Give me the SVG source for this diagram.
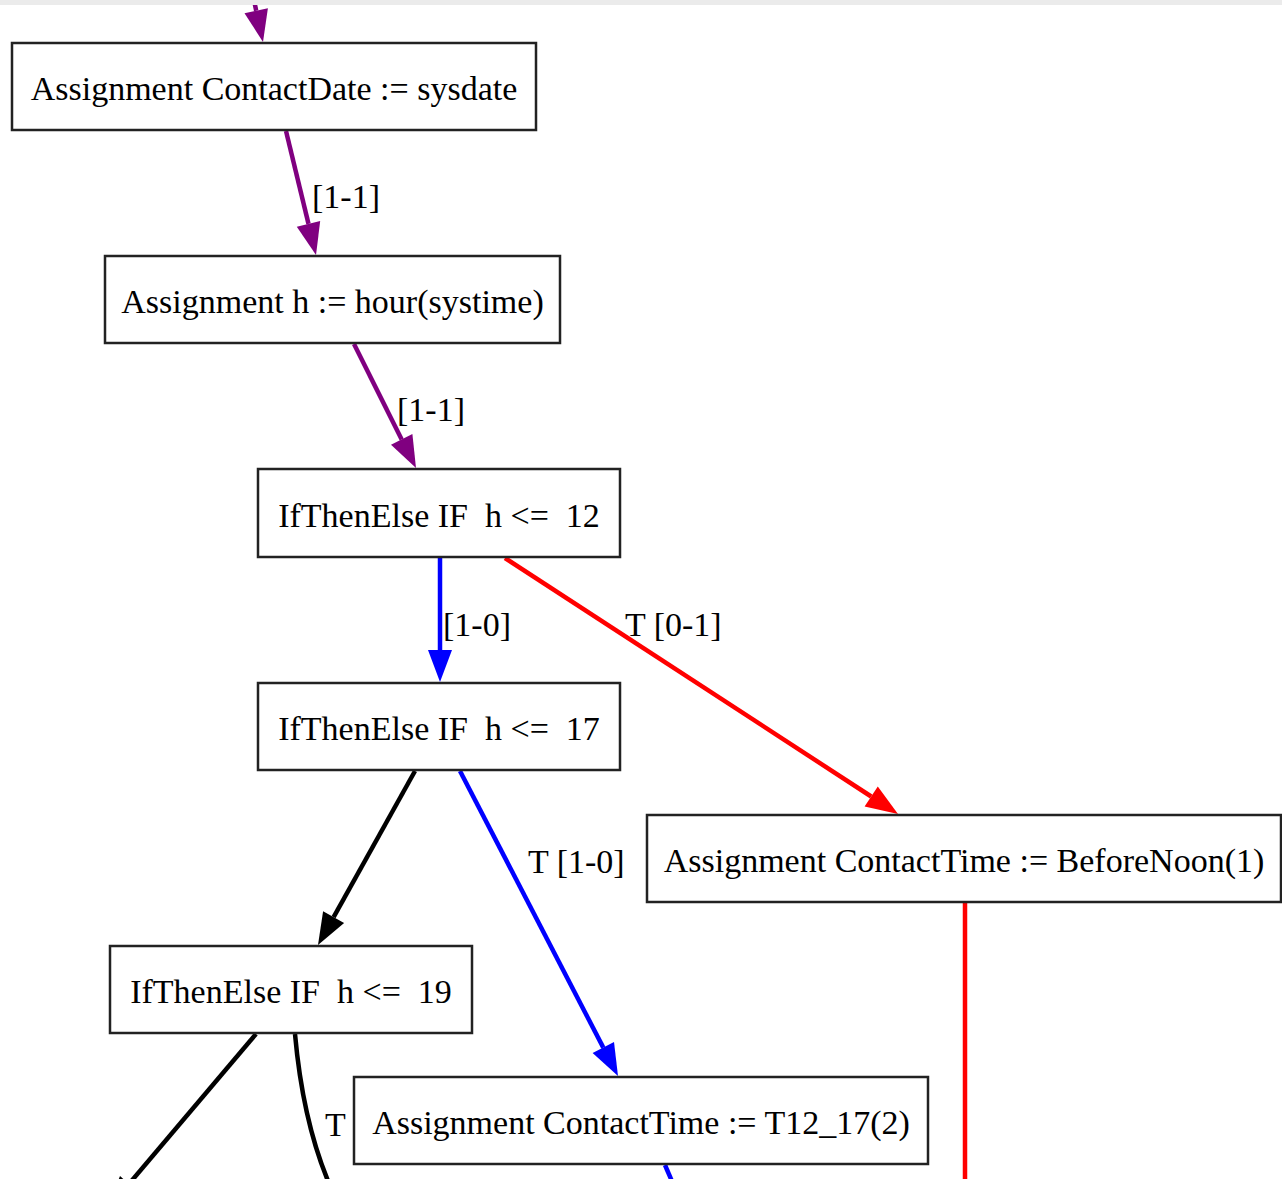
<svg xmlns="http://www.w3.org/2000/svg" width="1282" height="1179" viewBox="0 0 1282 1179">
  <style>
    .node rect { fill: #ffffff; stroke: #222222; stroke-width: 2.5; }
    .node text, .lbl { font-family: "Liberation Serif", "Times New Roman", serif; font-size: 34px; fill: #000000; }
    .node text { text-anchor: middle; }
    .e { fill: none; stroke-width: 4.5; }
    .purple { stroke: #800080; }
    .blue { stroke: #0000ff; }
    .red { stroke: #ff0000; }
    .black { stroke: #000000; }
    .hp { fill: #800080; }
    .hb { fill: #0000ff; }
    .hr { fill: #ff0000; }
    .hk { fill: #000000; }
  </style>
  <rect x="0" y="0" width="1282" height="1179" fill="#ffffff"/>

  <g id="edges">
    <!-- incoming edge from above -->
    <path class="e purple" d="M254,0 L256.2,10.7"/>
    <polygon class="hp" points="263,42 244.5,13.2 267.9,8.2"/>
    <!-- ContactDate -> h -->
    <path class="e purple" d="M286,131 L308.5,223.9"/>
    <polygon class="hp" points="316,255 296.8,226.7 320.2,221.1"/>
    <text class="lbl" x="312" y="208">[1-1]</text>
    <!-- h -> IF h<=12 -->
    <path class="e purple" d="M354,344 L401.7,439.4"/>
    <polygon class="hp" points="416,468 391,444.8 412.4,434"/>
    <text class="lbl" x="397" y="421">[1-1]</text>
    <!-- IF 12 -> IF 17 -->
    <path class="e blue" d="M440,558 L440,650"/>
    <polygon class="hb" points="440,682 428,650 452,650"/>
    <text class="lbl" x="443" y="636">[1-0]</text>
    <!-- IF 12 -> BeforeNoon -->
    <path class="e red" d="M505,558 L871.2,796.5"/>
    <polygon class="hr" points="898,814 864.6,806.6 877.8,786.4"/>
    <text class="lbl" x="625" y="636">T [0-1]</text>
    <!-- IF 17 -> IF 19 -->
    <path class="e black" d="M415,771 L333.6,917.1"/>
    <polygon class="hk" points="318,945 323.1,911.3 344.1,922.9"/>
    <!-- IF 17 -> T12_17 -->
    <path class="e blue" d="M460,771 L603.3,1047.6"/>
    <polygon class="hb" points="618,1076 592.6,1053.1 614,1042.1"/>
    <text class="lbl" x="528" y="873">T [1-0]</text>
    <!-- BeforeNoon continues down -->
    <path class="e red" d="M965,903 L965,1185"/>
    <!-- IF 19 false branch -->
    <path class="e black" d="M256,1034 L128.9,1184"/>
    <polygon class="hk" points="107.5,1207.8 120,1176 137.8,1192"/>
    <!-- IF 19 true branch -->
    <path class="e black" d="M295,1034 C300,1090 310,1140 331,1188"/>
    <text class="lbl" x="325" y="1136">T</text>
    <!-- T12_17 continues down -->
    <path class="e blue" d="M665,1165 L674,1186"/>
  </g>

  <g id="n_contactdate" class="node">
    <rect x="12" y="43" width="524" height="87"/>
    <text x="274" y="100">Assignment ContactDate := sysdate</text>
  </g>
  <g id="n_hour" class="node">
    <rect x="105" y="256" width="455" height="87"/>
    <text x="332.5" y="313">Assignment h := hour(systime)</text>
  </g>
  <g id="n_if12" class="node">
    <rect x="258" y="469" width="362" height="88"/>
    <text x="439" y="527">IfThenElse IF&#160; h &lt;=&#160; 12</text>
  </g>
  <g id="n_if17" class="node">
    <rect x="258" y="683" width="362" height="87"/>
    <text x="439" y="740">IfThenElse IF&#160; h &lt;=&#160; 17</text>
  </g>
  <g id="n_beforenoon" class="node">
    <rect x="647" y="815" width="634" height="87"/>
    <text x="964" y="872">Assignment ContactTime := BeforeNoon(1)</text>
  </g>
  <g id="n_if19" class="node">
    <rect x="110" y="946" width="362" height="87"/>
    <text x="291" y="1003">IfThenElse IF&#160; h &lt;=&#160; 19</text>
  </g>
  <g id="n_t12_17" class="node">
    <rect x="354" y="1077" width="574" height="87"/>
    <text x="641" y="1134">Assignment ContactTime := T12_17(2)</text>
  </g>

  <!-- strip along the top edge -->
  <rect x="0" y="0" width="1282" height="5" fill="#ebebeb"/>
</svg>
